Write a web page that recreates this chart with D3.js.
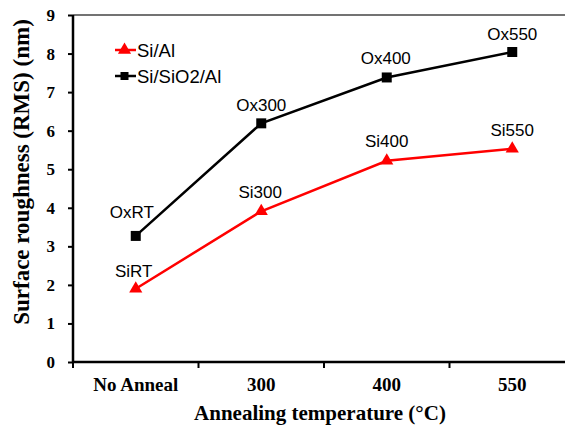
<!DOCTYPE html>
<html>
<head>
<meta charset="utf-8">
<script src="https://cdn.jsdelivr.net/npm/d3@7"></script>
<style>
  html, body { margin: 0; padding: 0; background: #fff; }
  svg { display: block; }
</style>
</head>
<body>
<svg id="chart" width="565" height="428"></svg>
<script>
// Categories on the x axis
const categories = ["No Anneal", "300", "400", "550"];
// Surface roughness RMS (nm)
const siAl = [1.9, 3.91, 5.22, 5.53];
const siSiO2Al = [3.27, 6.19, 7.38, 8.04];
// Point labels
const siLabels = ["SiRT", "Si300", "Si400", "Si550"];
const oxLabels = ["OxRT", "Ox300", "Ox400", "Ox550"];
// Y axis ticks
const yTicks = [0, 1, 2, 3, 4, 5, 6, 7, 8, 9];

const svg = d3.select("#chart");
const plotLeft = 73, plotRight = 575, plotTop = 15, plotBottom = 362;
const serif = "'Liberation Serif', 'Times New Roman', serif";
const sans = "'Liberation Sans', Arial, sans-serif";

const x = d3.scaleBand().domain(categories).range([plotLeft, plotRight]).paddingInner(0).paddingOuter(0);
const y = d3.scaleLinear().domain([0, 9]).range([plotBottom, plotTop]);
const cx = c => x(c) + x.bandwidth() / 2;

// Top frame line
svg.append("line")
  .attr("x1", plotLeft).attr("x2", 565).attr("y1", plotTop).attr("y2", plotTop)
  .attr("stroke", "#444").attr("stroke-width", 1.5);

// Y axis
const yAxis = svg.append("g")
  .attr("transform", `translate(${plotLeft},0)`)
  .call(d3.axisLeft(y).tickValues(yTicks).tickSize(5).tickPadding(13).tickFormat(d3.format("d")));
yAxis.select(".domain").attr("stroke", "#000").attr("stroke-width", 2.5).attr("d", `M0,${plotTop}V${plotBottom}`);
yAxis.selectAll(".tick line").attr("stroke", "#000").attr("stroke-width", 2);
yAxis.selectAll(".tick text")
  .attr("fill", "#000")
  .style("font-family", serif)
  .style("font-weight", "bold")
  .style("font-size", "17px");

// X axis with ticks at category boundaries
const xAxis = svg.append("g").attr("transform", `translate(0,${plotBottom})`);
xAxis.append("line")
  .attr("x1", plotLeft - 1).attr("x2", plotRight).attr("y1", 0).attr("y2", 0)
  .attr("stroke", "#000").attr("stroke-width", 2.5);
xAxis.selectAll("line.tk")
  .data(categories)
  .join("line")
  .attr("class", "tk")
  .attr("x1", d => x(d)).attr("x2", d => x(d))
  .attr("y1", 0).attr("y2", 6)
  .attr("stroke", "#000").attr("stroke-width", 2);
xAxis.selectAll("text")
  .data(categories)
  .join("text")
  .attr("x", d => cx(d))
  .attr("y", 29)
  .attr("text-anchor", "middle")
  .style("font-family", serif)
  .style("font-weight", "bold")
  .style("font-size", "19px")
  .text(d => d);

// Axis titles
svg.append("text")
  .attr("x", 320).attr("y", 420)
  .attr("text-anchor", "middle")
  .style("font-family", serif)
  .style("font-weight", "bold")
  .style("font-size", "21px")
  .text("Annealing temperature (°C)");
svg.append("text")
  .attr("transform", "translate(29,172) rotate(-90)")
  .attr("text-anchor", "middle")
  .style("font-family", serif)
  .style("font-weight", "bold")
  .style("font-size", "23px")
  .text("Surface roughness (RMS) (nm)");

// Series; label offsets (dx, dy) place each point label above its marker
const series = [
  { values: siSiO2Al, labels: oxLabels, color: "#000", symbol: d3.symbolSquare, size: 100,
    offsets: [[-4, -18], [0, -12], [-1, -13], [0, -12]] },
  { values: siAl, labels: siLabels, color: "#ff0000", symbol: d3.symbolTriangle, size: 75,
    offsets: [[-2, -12], [-1, -13], [0, -14], [0, -13]] }
];
const line = d3.line().x((d, i) => cx(categories[i])).y(d => y(d));

series.forEach(s => {
  svg.append("path")
    .datum(s.values)
    .attr("d", line)
    .attr("fill", "none")
    .attr("stroke", s.color)
    .attr("stroke-width", 2.5);
  svg.selectAll(null)
    .data(s.values)
    .join("path")
    .attr("transform", (d, i) => `translate(${cx(categories[i])},${y(d)})`)
    .attr("d", d3.symbol().type(s.symbol).size(s.size))
    .attr("fill", s.color);
  svg.selectAll(null)
    .data(s.values)
    .join("text")
    .attr("x", (d, i) => cx(categories[i]) + s.offsets[i][0])
    .attr("y", (d, i) => y(d) + s.offsets[i][1])
    .attr("text-anchor", "middle")
    .style("font-family", sans)
    .style("font-size", "17px")
    .attr("fill", "#000")
    .text((d, i) => s.labels[i]);
});

// Legend
const legend = [
  { name: "Si/Al", color: "#ff0000", symbol: d3.symbolTriangle, size: 75, y: 50 },
  { name: "Si/SiO2/Al", color: "#000", symbol: d3.symbolSquare, size: 64, y: 76 }
];
legend.forEach(l => {
  svg.append("line")
    .attr("x1", 115).attr("x2", 136).attr("y1", l.y).attr("y2", l.y)
    .attr("stroke", l.color).attr("stroke-width", 2.5);
  svg.append("path")
    .attr("transform", `translate(124.5,${l.y})`)
    .attr("d", d3.symbol().type(l.symbol).size(l.size))
    .attr("fill", l.color);
  svg.append("text")
    .attr("x", 137).attr("y", l.y + 6.5)
    .style("font-family", sans)
    .style("font-size", "18.5px")
    .attr("fill", "#000")
    .text(l.name);
});
</script>
</body>
</html>
